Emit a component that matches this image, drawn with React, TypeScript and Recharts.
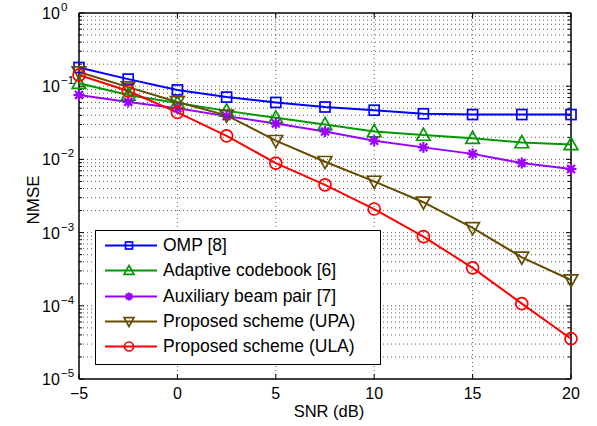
import React from 'react';
import { LineChart, Line, XAxis, YAxis, ReferenceLine, Legend } from 'recharts';

const SNR = [-5, -2.5, 0, 2.5, 5, 7.5, 10, 12.5, 15, 17.5, 20];
const OMP = [0.18, 0.125, 0.089, 0.071, 0.06, 0.052, 0.047, 0.042, 0.041, 0.041, 0.041];
const ADAPTIVE = [0.11, 0.076, 0.059, 0.046, 0.037, 0.03, 0.024, 0.0215, 0.0195, 0.017, 0.016];
const AUX = [0.076, 0.061, 0.05, 0.039, 0.031, 0.024, 0.018, 0.0146, 0.0119, 0.0089, 0.0074];
const UPA = [0.156, 0.097, 0.061, 0.04, 0.018, 0.0093, 0.005, 0.0026, 0.00116, 0.00046, 0.000225];
const ULA = [0.142, 0.086, 0.044, 0.021, 0.0089, 0.0045, 0.0021, 0.00088, 0.00033, 0.000107, 0.0000355];

const X_TICKS = [-5, 0, 5, 10, 15, 20];
const Y_TICKS = [1e-5, 1e-4, 1e-3, 1e-2, 1e-1, 1];
const Y_EXPONENTS = ['\u22125', '\u22124', '\u22123', '\u22122', '\u22121', '0'];

const FONT = '"Liberation Sans", Arial, Helvetica, sans-serif';

const SERIES = [
  { key: 'omp', name: 'OMP [8]', color: '#0000ff', marker: 'square', values: OMP },
  { key: 'adaptive', name: 'Adaptive codebook [6]', color: '#009900', marker: 'triUp', values: ADAPTIVE },
  { key: 'aux', name: 'Auxiliary beam pair [7]', color: '#9900ff', marker: 'star', values: AUX },
  { key: 'upa', name: 'Proposed scheme (UPA)', color: '#664c00', marker: 'triDown', values: UPA },
  { key: 'ula', name: 'Proposed scheme (ULA)', color: '#ff0000', marker: 'circle', values: ULA },
];

const data = SNR.map((snr, i) => {
  const row: any = { snr };
  SERIES.forEach((s) => (row[s.key] = s.values[i]));
  return row;
});

// minor log grid positions 2..9 x 10^n
const minorY: number[] = [];
for (let n = -5; n < 0; n++) {
  for (let k = 2; k <= 9; k++) minorY.push(k * Math.pow(10, n));
}

function marker(kind: string, color: string, cx: number, cy: number, s: number, key?: any) {
  const sw = 1.7;
  if (kind === 'square') {
    return <rect key={key} x={cx - s / 2} y={cy - s / 2} width={s} height={s} fill="none" stroke={color} strokeWidth={sw} />;
  }
  if (kind === 'circle') {
    return <circle key={key} cx={cx} cy={cy} r={s / 2 + 0.5} fill="none" stroke={color} strokeWidth={sw} />;
  }
  if (kind === 'triUp') {
    const h = s * 1.05;
    return (
      <polygon key={key}
        points={`${cx},${cy - h * 0.6} ${cx - s * 0.62},${cy + h * 0.45} ${cx + s * 0.62},${cy + h * 0.45}`}
        fill="none" stroke={color} strokeWidth={sw} />
    );
  }
  if (kind === 'triDown') {
    const h = s * 1.05;
    return (
      <polygon key={key}
        points={`${cx},${cy + h * 0.6} ${cx - s * 0.62},${cy - h * 0.45} ${cx + s * 0.62},${cy - h * 0.45}`}
        fill="none" stroke={color} strokeWidth={sw} />
    );
  }
  // asterisk
  const r = s / 2;
  const d = r * 0.72;
  return (
    <g key={key} stroke={color} strokeWidth={2.2}>
      <line x1={cx - r} y1={cy} x2={cx + r} y2={cy} />
      <line x1={cx} y1={cy - r} x2={cx} y2={cy + r} />
      <line x1={cx - d} y1={cy - d} x2={cx + d} y2={cy + d} />
      <line x1={cx - d} y1={cy + d} x2={cx + d} y2={cy - d} />
    </g>
  );
}

const XTick = ({ x, payload }: any) => {
  const v = payload.value;
  return (
    <text x={x} y={399} textAnchor="middle" fontSize={16} fontFamily={FONT} fill="#000">
      {v < 0 ? `\u2212${Math.abs(v)}` : `${v}`}
    </text>
  );
};

// tick label "10^n" drawn as a ReferenceLine label at the decade's y
const decadeLabel = (exp: string) => (props: any) => {
  const y = props.viewBox.y;
  return (
    <g>
      <text x={42} y={y + 6} textAnchor="start" fontSize={16} fontFamily={FONT} fill="#000">
        10
      </text>
      <text x={61} y={y - 2} textAnchor="start" fontSize={11.5} fontFamily={FONT} fill="#000">
        {exp}
      </text>
    </g>
  );
};

const LegendBox = () => (
  <div
    style={{
      width: 284,
      height: 131,
      border: '1px solid #000',
      background: '#fff',
      paddingTop: 2,
      boxSizing: 'content-box',
      fontFamily: FONT,
    }}
  >
    {SERIES.map((s) => (
      <div key={s.key} style={{ height: 25.3, display: 'flex', alignItems: 'center' }}>
        <svg width={67} height={25} style={{ flex: 'none' }}>
          <line x1={9} y1={12.5} x2={61} y2={12.5} stroke={s.color} strokeWidth={2} />
          {marker(s.marker, s.color, 33, 12.5, s.marker === 'square' ? 7 : 8)}
        </svg>
        <span style={{ fontSize: 17.5, color: '#000', whiteSpace: 'nowrap', lineHeight: '25px' }}>{s.name}</span>
      </div>
    ))}
  </div>
);

const X_TICK_LEN = (5 * 25) / 492;
const X_TICK_MINOR = (3 * 25) / 492;
const Y_TICK_F = Math.pow(10, 5 / 73.2);

export default function App() {
  const grid = { stroke: '#333', strokeWidth: 0.8, strokeDasharray: '1 3' };
  return (
    <div style={{ position: 'absolute', left: 0, top: 0, width: 597, height: 426, overflow: 'visible' }}>
      <style>{'svg.recharts-surface { overflow: visible; }'}</style>
      <LineChart
        width={597}
        height={426}
        data={data}
        margin={{ top: 13, right: 26, left: 0, bottom: 0 }}
      >
        <XAxis
          dataKey="snr"
          type="number"
          domain={[-5, 20]}
          ticks={X_TICKS}
          tick={<XTick />}
          tickLine={false}
          axisLine={false}
          height={47}
          interval={0}
          label={{
            content: () => (
              <g transform="translate(329,417)">
                <text x={0} y={0} textAnchor="middle" fontSize={16.5} fontFamily={FONT} fill="#000">
                  SNR (dB)
                </text>
              </g>
            ),
          }}
        />
        <YAxis
          type="number"
          scale="log"
          domain={[1e-5, 1]}
          allowDataOverflow
          ticks={Y_TICKS}
          tick={false}
          tickLine={false}
          axisLine={false}
          width={79}
          interval={0}
          label={{
            content: () => (
              <g transform="translate(39,200) rotate(-90)">
                <text x={0} y={0} textAnchor="middle" fontSize={17} fontFamily={FONT} fill="#000">
                  NMSE
                </text>
              </g>
            ),
          }}
        />

        {minorY.map((v) => (
          <ReferenceLine key={`my${v}`} y={v} {...grid} />
        ))}
        {Y_TICKS.slice(1, -1).map((v) => (
          <ReferenceLine key={`My${v}`} y={v} {...grid} />
        ))}
        {X_TICKS.slice(1, -1).map((v) => (
          <ReferenceLine key={`Mx${v}`} x={v} {...grid} />
        ))}

        {/* inward ticks */}
        {Y_TICKS.map((v) => (
          <ReferenceLine key={`tl${v}`} segment={[{ x: -5, y: v }, { x: -5 + X_TICK_LEN, y: v }]} stroke="#000" />
        ))}
        {Y_TICKS.map((v) => (
          <ReferenceLine key={`tr${v}`} segment={[{ x: 20 - X_TICK_LEN, y: v }, { x: 20, y: v }]} stroke="#000" />
        ))}
        {minorY.map((v) => (
          <ReferenceLine key={`ml${v}`} segment={[{ x: -5, y: v }, { x: -5 + X_TICK_MINOR, y: v }]} stroke="#000" />
        ))}
        {minorY.map((v) => (
          <ReferenceLine key={`mr${v}`} segment={[{ x: 20 - X_TICK_MINOR, y: v }, { x: 20, y: v }]} stroke="#000" />
        ))}
        {X_TICKS.map((v) => (
          <ReferenceLine key={`tb${v}`} segment={[{ x: v, y: 1e-5 }, { x: v, y: 1e-5 * Y_TICK_F }]} stroke="#000" />
        ))}
        {X_TICKS.map((v) => (
          <ReferenceLine key={`tt${v}`} segment={[{ x: v, y: 1 / Y_TICK_F }, { x: v, y: 1 }]} stroke="#000" />
        ))}

        {/* box */}
        <ReferenceLine x={-5} stroke="#000" strokeWidth={1.5} />
        <ReferenceLine x={20} stroke="#000" strokeWidth={1.5} />

        {SERIES.map((s) => (
          <Line
            key={s.key}
            dataKey={s.key}
            name={s.name}
            type="linear"
            stroke={s.color}
            strokeWidth={2}
            isAnimationActive={false}
            dot={(p: any) => marker(s.marker, s.color, p.cx, p.cy, s.marker === 'square' ? 10 : 11, `${s.key}-${p.index}`)}
            activeDot={false}
          />
        ))}

        {Y_TICKS.map((v, i) => (
          <ReferenceLine
            key={`lab${v}`}
            y={v}
            stroke={i === 0 || i === Y_TICKS.length - 1 ? '#000' : 'none'}
            strokeWidth={1.5}
            ifOverflow="visible"
            label={{ content: decadeLabel(Y_EXPONENTS[i]) }}
          />
        ))}

        <Legend
          layout="horizontal"
          verticalAlign="middle"
          align="center"
          content={<LegendBox />}
          wrapperStyle={{ position: 'absolute', left: 95, top: 230, width: 'auto', height: 'auto' }}
        />
      </LineChart>
    </div>
  );
}
